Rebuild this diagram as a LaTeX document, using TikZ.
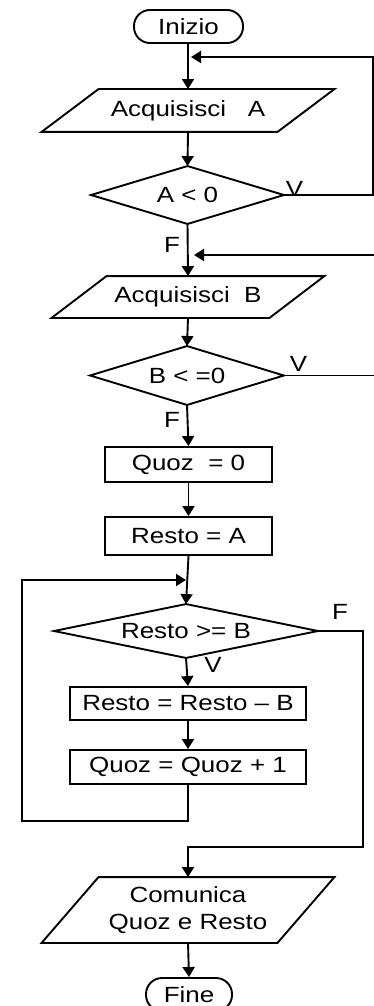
\documentclass[tikz,border=0pt]{standalone}
\usepackage{fontspec}
\setmainfont{Liberation Sans}[FakeStretch=1.18]
\usetikzlibrary{arrows.meta}
\begin{document}
\begin{tikzpicture}[x=1pt,y=-1pt,
  line width=1.9pt,
  every node/.style={font=\fontsize{22}{27}\selectfont, inner sep=0pt},
  term/.style={draw, rectangle, rounded corners=16pt, align=center},
  procbox/.style={draw, rectangle, align=center},
  holder/.style={rectangle, align=center},
  shapeline/.style={line width=1.9pt, line join=miter},
  flow/.style={-{Triangle[length=10pt,width=12pt]}},
  lbl/.style={font=\fontsize{22}{27}\selectfont}
]
\useasboundingbox (0,0) rectangle (374,1006);

% start terminal
\node[term, minimum width=109, minimum height=33] (ini) at (188.5,26.5) {Inizio};

% input A
\node[holder, minimum width=234, minimum height=41] (pa) at (188,110.5) {Acquisisci \ \ A};
\draw[shapeline] ([xshift=-28.5]pa.south west) -- ([xshift=-28.5]pa.south east)
  -- ([xshift=28.5]pa.north east) -- ([xshift=28.5]pa.north west) -- cycle;

% test A < 0
\node[holder, minimum width=191, minimum height=56] (da) at (187.5,195) {A < 0};
\draw[shapeline] (da.north) -- (da.east) -- (da.south) -- (da.west) -- cycle;

% input B
\node[holder, minimum width=216, minimum height=40] (pb) at (188,297) {Acquisisci \ B};
\draw[shapeline] ([xshift=-27.5]pb.south west) -- ([xshift=-27.5]pb.south east)
  -- ([xshift=27.5]pb.north east) -- ([xshift=27.5]pb.north west) -- cycle;

% test B <= 0
\node[holder, minimum width=192, minimum height=57] (db) at (187,375.5) {B < =0};
\draw[shapeline] (db.north) -- (db.east) -- (db.south) -- (db.west) -- cycle;

% assignments
\node[procbox, minimum width=167, minimum height=35] (q0) at (188.5,464.5) {Quoz \ = 0};
\node[procbox, minimum width=167, minimum height=38] (ra) at (188.5,536) {Resto = A};

% loop test
\node[holder, minimum width=262, minimum height=52] (dr) at (186,631) {Resto >= B};
\draw[shapeline] (dr.north) -- (dr.east) -- (dr.south) -- (dr.west) -- cycle;

\node[procbox, minimum width=236, minimum height=33] (rr) at (188,703.5) {Resto = Resto -- B};
\node[procbox, minimum width=236, minimum height=34] (q1) at (188,767) {Quoz = Quoz + 1};

% output
\node[holder, minimum width=234, minimum height=64] (pc) at (188,910) {Comunica\\Quoz e Resto};
\draw[shapeline] ([xshift=-28.5]pc.south west) -- ([xshift=-28.5]pc.south east)
  -- ([xshift=28.5]pc.north east) -- ([xshift=28.5]pc.north west) -- cycle;

% end terminal
\node[term, minimum width=86, minimum height=33] (fine) at (189,994.5) {Fine};

% junction points
\coordinate (j1) at (191,57);
\coordinate (j2) at (194,255);
\coordinate (j3) at (186,580);

% connectors
\draw[flow] (ini.south -| pa.north) -- (pa.north);
\draw[flow] (pa.south) -- (da.north);
\draw[flow] (da.east) -- (373,195) -- (373,57) -- (j1);
\draw[flow] (da.south) -- (pb.north);
\draw[flow] (db.east) -- (382,375.5) -- (382,255) -- (j2);
\draw[flow] (pb.south) -- (db.north);
\draw[flow] (db.south) -- (q0.north);
\draw[flow] (q0.south) -- (ra.north);
\draw[flow] (ra.south) -- (dr.north);
\draw[flow] (dr.south) -- (rr.north);
\draw[flow] (rr.south) -- (q1.north);
\draw[flow] (q1.south) -- (188,821) -- (22,821) -- (22,580) -- (j3);
\draw[flow] (dr.east) -- (363,631) -- (363,847) -- (188,847) -- (pc.north);
\draw[flow] (pc.south) -- (fine.north);

% branch labels
\node[lbl, anchor=south west] (va) at (285,197) {V};
\node[lbl] (fa) at (172,245) {F};
\node[lbl, anchor=south west] (vb) at (289,372) {V};
\node[lbl] (fb) at (172,420) {F};
\node[lbl] (fr) at (340,612) {F};
\node[lbl] (vr) at (213,665) {V};
\end{tikzpicture}
\end{document}
